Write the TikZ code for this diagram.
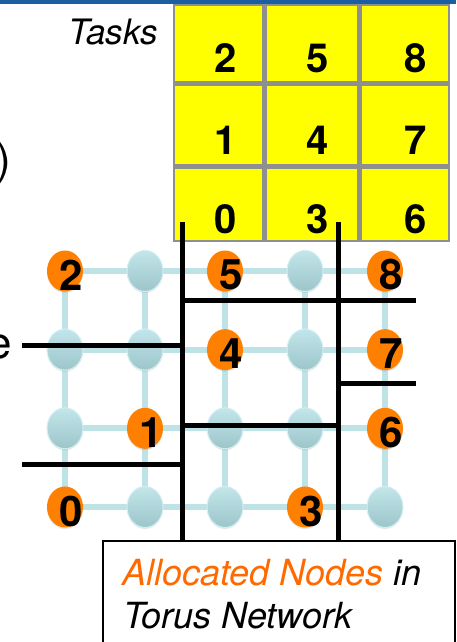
\documentclass[tikz,border=0pt]{standalone}
\usepackage{fontspec}
\setmainfont{TeX Gyre Heros}
\usetikzlibrary{shapes.geometric,shadows}

\definecolor{barblue}{HTML}{1A5FA0}
\definecolor{taskyellow}{HTML}{FFFF00}
\definecolor{cellgray}{HTML}{8F8F8F}
\definecolor{linkblue}{HTML}{BEE3E7}
\definecolor{nodetop}{HTML}{C2E6EA}
\definecolor{nodebottom}{HTML}{9CC5CA}
\definecolor{noderim}{HTML}{D3EFF1}
\definecolor{allocorange}{HTML}{FF7F00}
\definecolor{captionorange}{HTML}{FF6A00}

\begin{document}
\begin{tikzpicture}[x=1pt,y=-1pt,
  torusnode/.style={ellipse, minimum width=36pt, minimum height=41pt, inner sep=0pt,
    drop shadow={opacity=0.18, shadow xshift=0pt, shadow yshift=-1.5pt}},
  freenode/.style={torusnode, top color=nodetop, bottom color=nodebottom,
    draw=noderim, line width=1pt},
  busynode/.style={torusnode, fill=allocorange, label={[digitlabel]center:#1}},
  digitlabel/.style={font=\fontsize{42}{42}\selectfont\bfseries, inner sep=0pt,
    xshift=6pt, yshift=-4pt},
  taskdigit/.style={font=\fontsize{40}{40}\selectfont\bfseries, inner sep=0pt, anchor=base},
  link/.style={draw=linkblue, line width=6pt},
  cut/.style={draw=black, line width=5pt},
  captionfont/.style={font=\fontsize{36}{43}\selectfont\itshape, inner sep=0pt, anchor=base west},
  sidefont/.style={font=\fontsize{44}{44}\selectfont, inner sep=0pt, anchor=base east},
]
\path[use as bounding box] (0,0) rectangle (456,642);
\clip (0,0) rectangle (456,642);

% slide title bar
\fill[barblue] (0,0) rectangle (456,4);

% fragments of the slide text on the left
\node[sidefont] (cutparen) at (11,174) {)};
\node[sidefont] (cute) at (12,358) {e};

% task grid
\fill[taskyellow] (174,5) rectangle (449,241);
\draw[cellgray, line width=5pt]
  (264,5) -- (264,241) (359,5) -- (359,241)
  (174,83) -- (449,83) (174,166) -- (449,166);
\draw[cellgray, line width=2pt] (174,5) rectangle (449,241);

\node[font=\fontsize{35}{35}\selectfont\itshape, inner sep=0pt, anchor=base east]
  (taskslabel) at (158,45) {Tasks};

\node[taskdigit] (task2) at (226,73) {2};
\node[taskdigit] (task5) at (318,73) {5};
\node[taskdigit] (task8) at (416,73) {8};
\node[taskdigit] (task1) at (226,154) {1};
\node[taskdigit] (task4) at (318,154) {4};
\node[taskdigit] (task7) at (416,154) {7};
\node[taskdigit] (task0) at (226,233) {0};
\node[taskdigit] (task3) at (318,233) {3};
\node[taskdigit] (task6) at (416,233) {6};

% grid points of the torus, column c, row r
\foreach \c in {1,2,3,4,5}
  \foreach \r in {1,2,3,4}
    \coordinate (p-\c-\r) at ({80*\c-15},{192.3+78.67*\r});

% mesh links (drawn first so the nodes sit on top)
\foreach \r in {1,2,3,4}
  \foreach \c/\cn in {1/2,2/3,3/4,4/5}
    \draw[link] (p-\c-\r) -- (p-\cn-\r);
\foreach \c in {1,2,3,4,5}
  \foreach \r/\rn in {1/2,2/3,3/4}
    \draw[link] (p-\c-\r) -- (p-\c-\rn);

% free and allocated nodes
\foreach \c/\r in {2/1,4/1,1/2,2/2,4/2,1/3,3/3,4/3,2/4,3/4,5/4}
  \node[freenode] (n-\c-\r) at (p-\c-\r) {};
\foreach \c/\r/\t in {1/1/2,3/1/5,5/1/8,3/2/4,5/2/7,2/3/1,5/3/6,1/4/0,4/4/3}
  \node[busynode=\t] (n-\c-\r) at (p-\c-\r) {};

% partition of the nodes among the tasks
\coordinate (v1top) at (182,222);
\coordinate (v1bot) at (182,542);
\coordinate (v2top) at (338,222);
\coordinate (v2bot) at (338,542);
\coordinate (h1a) at (182,300);
\coordinate (h1b) at (416,300);
\coordinate (h2a) at (22,345);
\coordinate (h2b) at (182,345);
\coordinate (h3a) at (338,383);
\coordinate (h3b) at (416,383);
\coordinate (h4a) at (182,425);
\coordinate (h4b) at (338,425);
\coordinate (h5a) at (22,464);
\coordinate (h5b) at (182,464);
\draw[cut] (v1top) -- (v1bot);
\draw[cut] (v2top) -- (v2bot);
\draw[cut] (h1a) -- (h1b);
\draw[cut] (h2a) -- (h2b);
\draw[cut] (h3a) -- (h3b);
\draw[cut] (h4a) -- (h4b);
\draw[cut] (h5a) -- (h5b);

% caption box
\node[draw=black, fill=white, line width=1.5pt, anchor=north west,
  minimum width=352pt, minimum height=130pt, inner sep=0pt] (captionbox) at (102,540) {};
\node[captionfont] (cap1) at (122,585) {\textcolor{captionorange}{Allocated Nodes} in};
\node[captionfont] (cap2) at (123,628) {Torus Network};
\end{tikzpicture}
\end{document}
